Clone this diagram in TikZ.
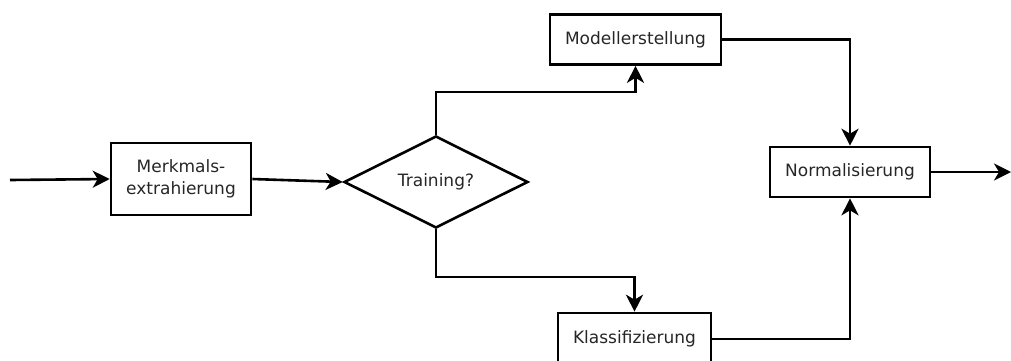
\documentclass[tikz,border=0pt]{standalone}
\usepackage{fontspec}
\setmainfont{DejaVu Sans}
\usetikzlibrary{shapes.geometric,arrows.meta}
\begin{document}
\begin{tikzpicture}[x=1pt,y=-1pt,
  flow/.style={line width=2.6pt},
  arr/.style={flow,-{Stealth[length=17pt,width=17pt,inset=5pt]}},
  box/.style={draw,line width=2.6pt,rectangle,inner sep=0pt,
    text=black!85,font=\fontsize{17}{22}\selectfont,align=center},
  decide/.style={draw,line width=2.6pt,diamond,aspect=2,inner sep=0pt,
    text=black!85,font=\fontsize{17}{22}\selectfont}]
  \useasboundingbox (0,0) rectangle (1011,360);
  \clip (0,0) rectangle (1011,360);

  % processing stages
  \node[box,minimum width=140pt,minimum height=72pt] (merk) at (181,179) {Merkmals-\\extrahierung};
  \node[decide,minimum width=184pt,minimum height=92pt] (dia) at (436,182) {Training?};
  \node[box,minimum width=171pt,minimum height=50pt] (model) at (635.5,39.5) {Modellerstellung};
  \node[box,minimum width=153pt,minimum height=52pt] (klass) at (634.5,339) {Klassifizierung};
  \node[box,minimum width=160pt,minimum height=50pt] (norm) at (850,172) {Normalisierung};

  % free ends and bends
  \coordinate (in) at (10,180);
  \coordinate (out) at (1011,172);
  \coordinate (tbend) at (600,92);
  \coordinate (bbend) at (600,277);

  % connectors
  \draw[arr] (in) -- (merk.west);
  \draw[arr] (merk.east) -- (dia.west);
  \draw[arr] (dia.north) |- (tbend) -| (model.south);
  \draw[arr] (dia.south) |- (bbend) -| (klass.north);
  \draw[arr] (model.east) -| (norm.north);
  \draw[arr] (klass.east) -| (norm.south);
  \draw[arr] (norm.east) -- (out);
\end{tikzpicture}
\end{document}
